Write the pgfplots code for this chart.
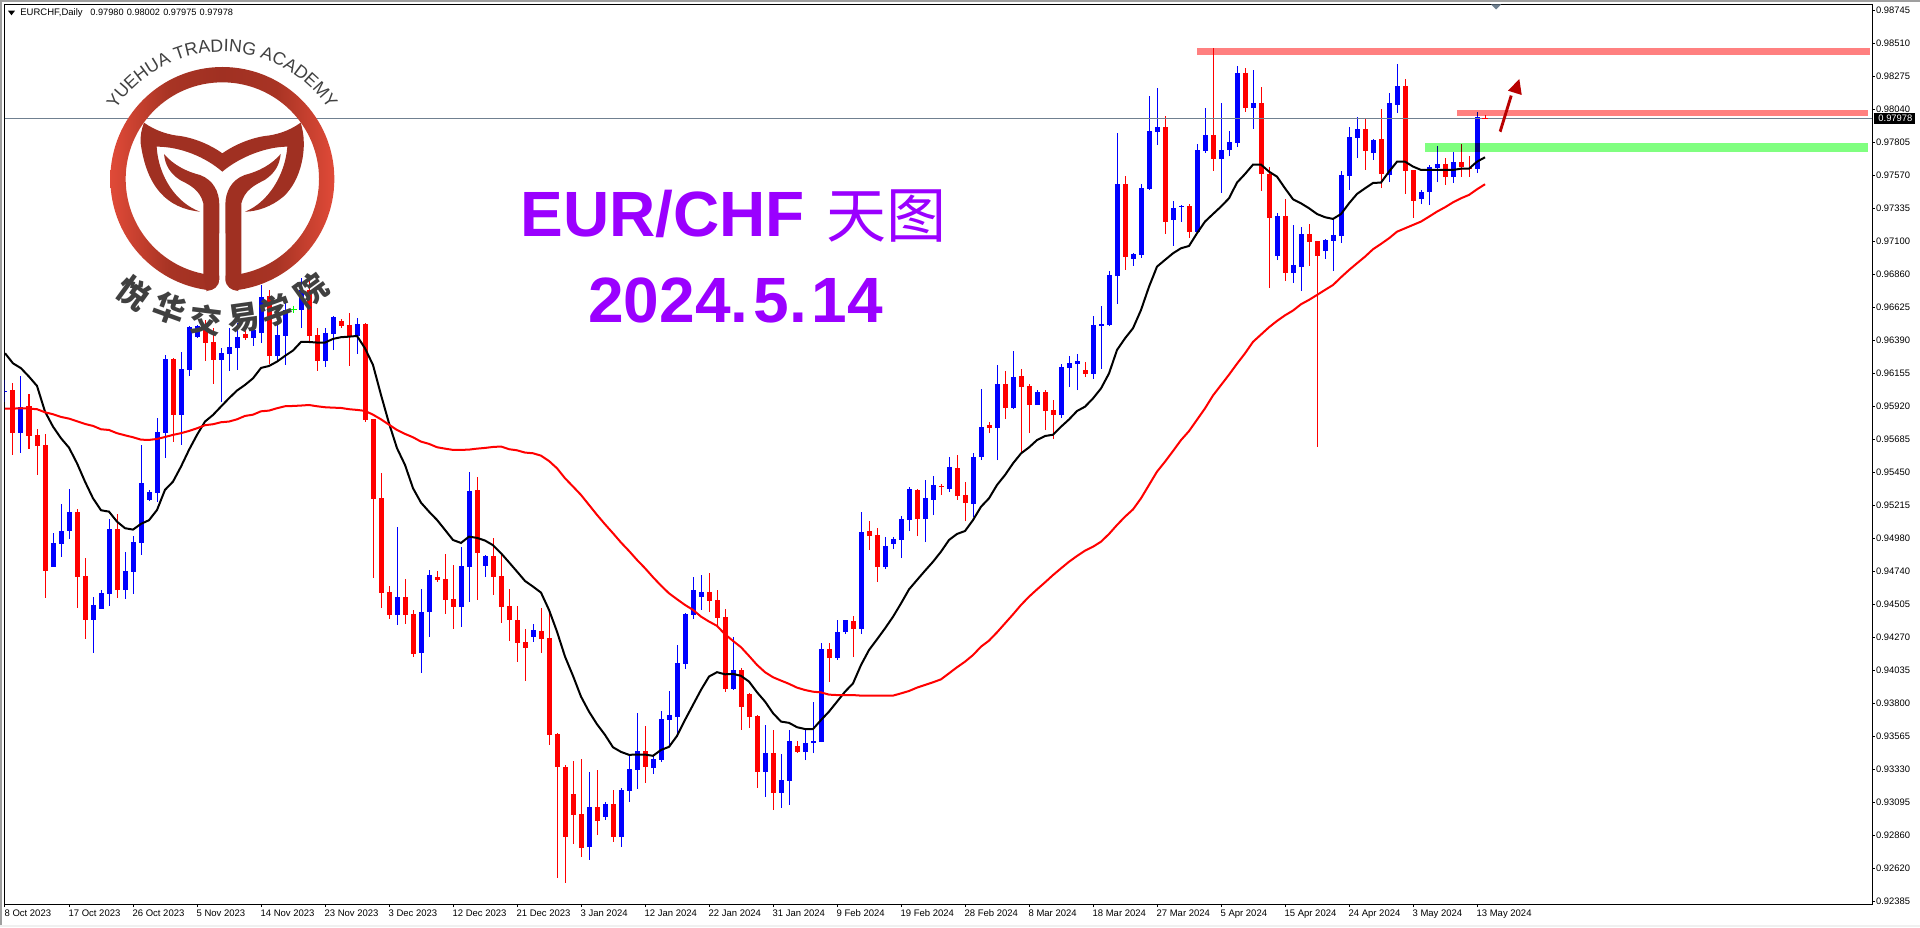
\documentclass[border=0pt]{standalone}
\usepackage{pgfplots}
\usepackage{pgfplotstable}
\usepackage{fontspec}
\pgfplotsset{compat=1.18}
\usetikzlibrary{decorations.text}
\setmainfont{Liberation Sans}
\newfontfamily\cjk{Noto Sans CJK SC}
\definecolor{mtblue}{HTML}{0000FF}
\definecolor{mtred}{HTML}{FF0000}
\definecolor{bandred}{HTML}{FF8080}
\definecolor{bandgreen}{HTML}{80FF80}
\definecolor{titlepurple}{HTML}{9A00FF}
\definecolor{logored}{HTML}{A03022}
\definecolor{logomid}{HTML}{A83424}
\definecolor{logolight}{HTML}{E04A38}
\definecolor{logotext}{HTML}{404040}
\definecolor{bidline}{HTML}{708090}
\pgfdeclarehorizontalshading{ringshade}{100bp}{color(0bp)=(logolight);color(25bp)=(logolight);color(38bp)=(logomid);color(50bp)=(logored);color(62bp)=(logomid);color(75bp)=(logolight);color(100bp)=(logolight)}
\pgfplotstableread{
x hi top bot lo
0 0.96114 0.96038 0.96030 0.95959
2 0.96142 0.95919 0.95738 0.95596
6 0.95023 0.94952 0.94784 0.94784
7 0.95230 0.95038 0.94947 0.94855
8 0.95337 0.95173 0.95040 0.94983
11 0.94567 0.94510 0.94406 0.94171
12 0.94617 0.94596 0.94482 0.94482
13 0.95123 0.95052 0.94591 0.94506
15 0.94888 0.94753 0.94620 0.94553
16 0.95002 0.94959 0.94748 0.94591
17 0.95650 0.95380 0.94952 0.94867
18 0.95330 0.95315 0.95258 0.95251
19 0.95843 0.95743 0.95311 0.95244
20 0.96292 0.96263 0.95736 0.95558
22 0.96313 0.96192 0.95864 0.95650
23 0.96496 0.96491 0.96185 0.96142
24 0.96505 0.96498 0.96420 0.96413
27 0.96341 0.96306 0.96256 0.95957
28 0.96482 0.96349 0.96299 0.96178
29 0.96517 0.96420 0.96341 0.96185
31 0.96541 0.96470 0.96413 0.96356
32 0.96790 0.96705 0.96448 0.96377
34 0.96588 0.96434 0.96284 0.96242
35 0.96707 0.96612 0.96427 0.96220
37 0.96838 0.96755 0.96612 0.96482
40 0.96482 0.96448 0.96249 0.96206
41 0.96569 0.96562 0.96441 0.96327
44 0.96555 0.96512 0.96427 0.96299
49 0.95066 0.94567 0.94439 0.94368
52 0.94624 0.94460 0.94168 0.94026
53 0.94760 0.94724 0.94460 0.94282
57 0.94924 0.94788 0.94496 0.94354
58 0.95458 0.95323 0.94781 0.94532
60 0.94867 0.94859 0.94788 0.94710
66 0.94375 0.94332 0.94282 0.94247
73 0.93320 0.93071 0.92786 0.92693
75 0.93107 0.93092 0.93000 0.92978
77 0.93206 0.93192 0.92857 0.92786
78 0.93442 0.93342 0.93185 0.93107
79 0.93741 0.93470 0.93335 0.93199
81 0.93442 0.93413 0.93349 0.93306
82 0.93755 0.93698 0.93406 0.93392
83 0.93898 0.93727 0.93691 0.93501
84 0.94225 0.94097 0.93712 0.93572
85 0.94451 0.94446 0.94090 0.94054
86 0.94710 0.94617 0.94439 0.94411
87 0.94724 0.94603 0.94567 0.94475
91 0.94282 0.94047 0.93912 0.93905
95 0.93655 0.93456 0.93320 0.93142
97 0.93449 0.93263 0.93171 0.93064
98 0.93620 0.93541 0.93256 0.93085
100 0.93619 0.93526 0.93462 0.93405
101 0.93818 0.93541 0.93526 0.93455
102 0.94239 0.94196 0.93533 0.93533
104 0.94403 0.94317 0.94132 0.94118
105 0.94403 0.94403 0.94317 0.94303
107 0.95172 0.95030 0.94339 0.94303
110 0.94994 0.94930 0.94780 0.94766
111 0.94994 0.94980 0.94944 0.94909
112 0.95144 0.95122 0.94973 0.94844
113 0.95350 0.95336 0.95115 0.95037
115 0.95400 0.95272 0.95122 0.94958
116 0.95429 0.95365 0.95258 0.95151
118 0.95564 0.95493 0.95336 0.95315
121 0.95593 0.95564 0.95229 0.95137
122 0.96049 0.95778 0.95564 0.95543
124 0.96220 0.96084 0.95771 0.95543
126 0.96319 0.96134 0.95913 0.95906
129 0.96041 0.96027 0.95935 0.95935
132 0.96227 0.96205 0.95863 0.95842
133 0.96284 0.96234 0.96198 0.96063
134 0.96298 0.96248 0.96227 0.96041
136 0.96569 0.96505 0.96156 0.96121
137 0.96641 0.96512 0.96498 0.96192
138 0.96890 0.96862 0.96505 0.96498
139 0.97873 0.97510 0.96854 0.96655
141 0.97018 0.97011 0.96976 0.96926
142 0.97510 0.97481 0.97004 0.96983
143 0.98137 0.97888 0.97474 0.97467
144 0.98194 0.97916 0.97880 0.97788
146 0.97389 0.97339 0.97253 0.97068
147 0.97360 0.97356 0.97348 0.97239
149 0.97795 0.97752 0.97168 0.97154
150 0.98051 0.97859 0.97745 0.97731
152 0.98087 0.97752 0.97688 0.97446
153 0.97888 0.97809 0.97752 0.97709
154 0.98351 0.98301 0.97802 0.97774
156 0.98322 0.98087 0.98051 0.97902
159 0.97303 0.97282 0.96997 0.96968
161 0.97218 0.96933 0.96876 0.96805
162 0.97204 0.97154 0.96919 0.96748
165 0.97118 0.97111 0.97033 0.96976
166 0.97261 0.97147 0.97104 0.96890
167 0.97603 0.97574 0.97139 0.97090
168 0.97916 0.97845 0.97567 0.97467
169 0.97987 0.97902 0.97838 0.97695
171 0.97831 0.97823 0.97731 0.97681
173 0.98158 0.98087 0.97574 0.97524
174 0.98365 0.98208 0.98073 0.98016
177 0.97467 0.97453 0.97403 0.97367
178 0.97645 0.97631 0.97453 0.97360
179 0.97781 0.97652 0.97624 0.97524
181 0.97738 0.97667 0.97560 0.97517
184 0.98023 0.97987 0.97617 0.97588
}\upbars
\pgfplotstableread{
x hi top bot lo
1 0.96090 0.96042 0.95738 0.95579
3 0.96014 0.95928 0.95717 0.95622
4 0.95764 0.95722 0.95646 0.95437
5 0.95729 0.95650 0.94755 0.94563
9 0.95194 0.95173 0.94712 0.94489
10 0.94843 0.94717 0.94406 0.94268
14 0.95159 0.95052 0.94620 0.94563
21 0.96270 0.96263 0.95864 0.95672
25 0.96541 0.96470 0.96377 0.96249
26 0.96482 0.96384 0.96256 0.96085
30 0.96517 0.96441 0.96413 0.96399
33 0.96755 0.96712 0.96284 0.96227
38 0.96862 0.96755 0.96429 0.96387
39 0.96482 0.96434 0.96249 0.96180
42 0.96548 0.96534 0.96498 0.96484
43 0.96591 0.96505 0.96427 0.96213
45 0.96520 0.96512 0.95828 0.95814
46 0.95836 0.95836 0.95266 0.94703
47 0.95451 0.95273 0.94596 0.94489
48 0.94646 0.94603 0.94439 0.94411
50 0.94696 0.94567 0.94439 0.94375
51 0.94475 0.94446 0.94161 0.94140
54 0.94753 0.94710 0.94688 0.94674
55 0.94874 0.94696 0.94546 0.94446
56 0.94795 0.94553 0.94496 0.94339
59 0.95422 0.95330 0.94881 0.94546
61 0.94988 0.94859 0.94710 0.94582
62 0.94867 0.94717 0.94496 0.94382
63 0.94624 0.94503 0.94403 0.94254
64 0.94503 0.94403 0.94240 0.94104
65 0.94339 0.94247 0.94204 0.93969
67 0.94489 0.94325 0.94268 0.94168
68 0.94451 0.94275 0.93584 0.93513
69 0.93598 0.93591 0.93356 0.92565
70 0.93370 0.93356 0.92857 0.92530
71 0.93399 0.93164 0.93014 0.92807
72 0.93413 0.93021 0.92779 0.92715
74 0.93335 0.93071 0.92971 0.92872
76 0.93192 0.93092 0.92857 0.92822
80 0.93648 0.93470 0.93356 0.93242
88 0.94738 0.94603 0.94539 0.94460
89 0.94617 0.94546 0.94418 0.94356
90 0.94482 0.94425 0.93912 0.93890
92 0.94061 0.94047 0.93784 0.93620
93 0.93883 0.93876 0.93712 0.93634
94 0.93727 0.93719 0.93320 0.93206
96 0.93620 0.93456 0.93171 0.93050
99 0.93541 0.93506 0.93463 0.93456
103 0.94239 0.94196 0.94132 0.93961
106 0.94431 0.94396 0.94339 0.94139
108 0.95108 0.95037 0.95001 0.94901
109 0.95058 0.95008 0.94780 0.94673
114 0.95336 0.95329 0.95122 0.95001
117 0.95372 0.95357 0.95348 0.95293
119 0.95578 0.95486 0.95286 0.95258
120 0.95386 0.95293 0.95236 0.95108
123 0.95813 0.95792 0.95771 0.95735
125 0.96177 0.96084 0.95913 0.95835
127 0.96191 0.96141 0.96063 0.95593
128 0.96084 0.96070 0.95935 0.95735
130 0.96041 0.96027 0.95892 0.95756
131 0.95970 0.95899 0.95863 0.95692
135 0.96241 0.96184 0.96155 0.96134
140 0.97567 0.97510 0.96990 0.96897
145 0.97994 0.97916 0.97239 0.97154
148 0.97367 0.97353 0.97168 0.97125
151 0.98479 0.97859 0.97688 0.97603
155 0.98336 0.98301 0.98051 0.98023
157 0.98201 0.98087 0.97581 0.97460
158 0.97631 0.97581 0.97268 0.96769
160 0.97403 0.97282 0.96876 0.96819
163 0.97225 0.97154 0.97097 0.96926
164 0.97104 0.97104 0.96997 0.95636
170 0.97973 0.97902 0.97745 0.97610
172 0.98044 0.97831 0.97581 0.97481
175 0.98258 0.98208 0.97603 0.97439
176 0.97610 0.97610 0.97389 0.97268
180 0.97695 0.97652 0.97560 0.97503
182 0.97795 0.97667 0.97631 0.97560
183 0.97709 0.97622 0.97617 0.97560
185 0.98002 0.97980 0.97978 0.97975
}\downbars
\pgfplotstableread{
x fast slow
0 0.96304 0.95909
1 0.96232 0.95909
2 0.96197 0.95912
3 0.96137 0.95909
4 0.96071 0.95905
5 0.95888 0.95883
6 0.95781 0.95869
7 0.95698 0.95850
8 0.95631 0.95838
9 0.95520 0.95819
10 0.95389 0.95800
11 0.95270 0.95786
12 0.95185 0.95762
13 0.95175 0.95757
14 0.95104 0.95734
15 0.95057 0.95719
16 0.95047 0.95705
17 0.95088 0.95688
18 0.95114 0.95686
19 0.95187 0.95693
20 0.95330 0.95707
21 0.95389 0.95722
22 0.95496 0.95734
23 0.95615 0.95750
24 0.95722 0.95769
25 0.95817 0.95791
26 0.95864 0.95798
27 0.95924 0.95812
28 0.95983 0.95817
29 0.96038 0.95833
30 0.96078 0.95857
31 0.96125 0.95866
32 0.96199 0.95890
33 0.96213 0.95895
34 0.96244 0.95912
35 0.96285 0.95926
36 0.96323 0.95928
37 0.96384 0.95931
38 0.96384 0.95935
39 0.96380 0.95926
40 0.96380 0.95919
41 0.96406 0.95916
42 0.96418 0.95914
43 0.96422 0.95905
44 0.96427 0.95900
45 0.96339 0.95893
46 0.96220 0.95866
47 0.96007 0.95833
48 0.95805 0.95795
49 0.95627 0.95757
50 0.95508 0.95729
51 0.95342 0.95705
52 0.95239 0.95674
53 0.95175 0.95658
54 0.95116 0.95634
55 0.95045 0.95624
56 0.94973 0.95615
57 0.94952 0.95615
58 0.94997 0.95617
59 0.94988 0.95624
60 0.94969 0.95629
61 0.94936 0.95636
62 0.94879 0.95639
63 0.94814 0.95620
64 0.94748 0.95612
65 0.94681 0.95596
66 0.94641 0.95591
67 0.94598 0.95574
68 0.94475 0.95536
69 0.94320 0.95484
70 0.94142 0.95413
71 0.94005 0.95354
72 0.93857 0.95294
73 0.93750 0.95223
74 0.93660 0.95152
75 0.93584 0.95085
76 0.93496 0.95021
77 0.93463 0.94955
78 0.93442 0.94895
79 0.93444 0.94831
80 0.93444 0.94772
81 0.93435 0.94708
82 0.93477 0.94648
83 0.93499 0.94593
84 0.93577 0.94551
85 0.93691 0.94510
86 0.93798 0.94475
87 0.93905 0.94427
88 0.94000 0.94392
89 0.94031 0.94361
90 0.94016 0.94301
91 0.94019 0.94254
92 0.94005 0.94209
93 0.93964 0.94147
94 0.93888 0.94083
95 0.93822 0.94031
96 0.93739 0.93995
97 0.93679 0.93971
98 0.93670 0.93948
99 0.93639 0.93921
100 0.93626 0.93904
101 0.93626 0.93892
102 0.93690 0.93887
103 0.93750 0.93871
104 0.93821 0.93868
105 0.93892 0.93868
106 0.93951 0.93868
107 0.94082 0.93864
108 0.94189 0.93864
109 0.94265 0.93864
110 0.94343 0.93864
111 0.94426 0.93864
112 0.94521 0.93880
113 0.94621 0.93897
114 0.94688 0.93921
115 0.94754 0.93940
116 0.94818 0.93959
117 0.94890 0.93980
118 0.94973 0.94023
119 0.95016 0.94066
120 0.95037 0.94106
121 0.95115 0.94153
122 0.95210 0.94213
123 0.95270 0.94256
124 0.95365 0.94315
125 0.95436 0.94379
126 0.95519 0.94443
127 0.95590 0.94510
128 0.95633 0.94569
129 0.95685 0.94621
130 0.95714 0.94671
131 0.95723 0.94723
132 0.95780 0.94771
133 0.95832 0.94818
134 0.95892 0.94859
135 0.95923 0.94897
136 0.95982 0.94925
137 0.96053 0.94961
138 0.96160 0.95016
139 0.96327 0.95080
140 0.96410 0.95139
141 0.96482 0.95191
142 0.96612 0.95270
143 0.96778 0.95365
144 0.96921 0.95460
145 0.96969 0.95531
146 0.97016 0.95607
147 0.97052 0.95685
148 0.97068 0.95749
149 0.97159 0.95830
150 0.97242 0.95911
151 0.97296 0.96003
152 0.97349 0.96077
153 0.97408 0.96151
154 0.97520 0.96229
155 0.97581 0.96303
156 0.97648 0.96385
157 0.97648 0.96437
158 0.97598 0.96489
159 0.97562 0.96534
160 0.97479 0.96574
161 0.97401 0.96608
162 0.97372 0.96653
163 0.97337 0.96684
164 0.97296 0.96719
165 0.97273 0.96755
166 0.97261 0.96790
167 0.97296 0.96845
168 0.97372 0.96897
169 0.97439 0.96945
170 0.97479 0.96992
171 0.97517 0.97045
172 0.97520 0.97083
173 0.97598 0.97123
174 0.97669 0.97170
175 0.97669 0.97194
176 0.97634 0.97218
177 0.97610 0.97242
178 0.97610 0.97277
179 0.97610 0.97313
180 0.97610 0.97344
181 0.97610 0.97379
182 0.97619 0.97408
183 0.97619 0.97432
184 0.97669 0.97472
185 0.97700 0.97508
}\movingavg
\pgfplotsset{
  wick/.style={draw=none,forget plot,error bars/.cd,y dir=plus,y explicit,error mark=none,
    error bar style={draw=#1,line width=0.5pt}},
  body/.style={draw=none,forget plot,error bars/.cd,y dir=plus,y explicit,error mark=none,
    error bar style={draw=#1,line width=2.5pt}},
}
\begin{document}
\begin{tikzpicture}
\path[use as bounding box] (0,0) rectangle (960pt,463.5pt);
\begin{axis}[
  at={(2.35pt,11.5pt)},anchor=south west,
  scale only axis,width=933.65pt,height=449.75pt,
  xmin=-0.0375,xmax=233.375,ymin=0.923791,ymax=0.987889,
  axis line style={line width=0.5pt,black},
  tick align=outside,major tick length=1.6pt,
  tick style={black,line width=0.5pt},
  xtick pos=bottom,ytick pos=right,yticklabel pos=right,
  xtick={0,8,16,24,32,40,48,56,64,72,80,88,96,104,112,120,128,136,144,152,160,168,176,184},
  xticklabels={8 Oct 2023,17 Oct 2023,26 Oct 2023,5 Nov 2023,14 Nov 2023,23 Nov 2023,3 Dec 2023,12 Dec 2023,21 Dec 2023,3 Jan 2024,12 Jan 2024,22 Jan 2024,31 Jan 2024,9 Feb 2024,19 Feb 2024,28 Feb 2024,8 Mar 2024,18 Mar 2024,27 Mar 2024,5 Apr 2024,15 Apr 2024,24 Apr 2024,3 May 2024,13 May 2024},
  ytick={0.98745,0.98510,0.98275,0.98040,0.97805,0.97570,0.97335,0.97100,0.96865,0.96630,0.96395,0.96160,0.95925,0.95690,0.95455,0.95220,0.94985,0.94750,0.94515,0.94280,0.94045,0.93810,0.93575,0.93340,0.93105,0.92870,0.92635,0.92400},
  yticklabels={0.98745,0.98510,0.98275,0.98040,0.97805,0.97570,0.97335,0.97100,0.96860,0.96625,0.96390,0.96155,0.95920,0.95685,0.95450,0.95215,0.94980,0.94740,0.94505,0.94270,0.94035,0.93800,0.93565,0.93330,0.93095,0.92860,0.92620,0.92385},
  x tick label style={font=\fontsize{4.75}{5}\selectfont,anchor=north west,inner sep=0pt,xshift=-0.4pt,yshift=-0.9pt},
  y tick label style={font=\fontsize{4.7}{5}\selectfont,anchor=west,inner sep=0pt,xshift=0.2pt},
]
\addplot[wick=mtred] table[x=x,y=lo,y error plus expr=\thisrow{hi}-\thisrow{lo}] {\downbars};
\addplot[wick=mtblue] table[x=x,y=lo,y error plus expr=\thisrow{hi}-\thisrow{lo}] {\upbars};
\addplot[body=mtred] table[x=x,y=bot,y error plus expr=\thisrow{top}-\thisrow{bot}] {\downbars};
\addplot[body=mtblue] table[x=x,y=bot,y error plus expr=\thisrow{top}-\thisrow{bot}] {\upbars};
\addplot[only marks,mark=-,mark size=1.3pt,mark options={draw=mtred,line width=0.5pt},forget plot] coordinates {(185,0.97979)};
\addplot[only marks,mark=+,mark size=1.8pt,mark options={draw=green,line width=0.4pt},forget plot] coordinates {(36,0.96617)};
\addplot[bidline,line width=0.5pt,forget plot] coordinates {(-0.0375,0.97980)(233.375,0.97980)};
\addplot[black,line width=1pt,forget plot] table[x=x,y=fast] {\movingavg};
\addplot[mtred,line width=1pt,forget plot] table[x=x,y=slow] {\movingavg};
\addplot[draw=none,fill=bandred,blend mode=multiply,forget plot] coordinates {(148.96,0.98479)(233.1,0.98479)(233.1,0.98429)(148.96,0.98429)} --cycle;
\addplot[draw=none,fill=bandred,blend mode=multiply,forget plot] coordinates {(181.5,0.98037)(232.9,0.98037)(232.9,0.97994)(181.5,0.97994)} --cycle;
\addplot[draw=none,fill=bandgreen,blend mode=multiply,forget plot] coordinates {(177.5,0.97802)(232.9,0.97802)(232.9,0.97738)(177.5,0.97738)} --cycle;
\end{axis}
% everything below is set in reference pixels
\begin{scope}[x=0.5pt,y=-0.5pt,shift={(0,463.5pt)}]
  \fill[gray!75] (0,0) rectangle (1920,1.7);
  \fill[gray!75] (0,0) rectangle (1.7,925);
  \fill[black!6] (0,925) rectangle (1920,927);
  \fill[black] (8,10.7) -- (15,10.7) -- (11.5,15.3) -- cycle;
  \fill[bidline] (1491,4.5) -- (1501,4.5) -- (1496,9.5) -- cycle;
  \node[anchor=west,inner sep=0pt,font=\fontsize{4.75}{5}\selectfont] at (20,12.7) {EURCHF,Daily};
  \node[anchor=west,inner sep=0pt,font=\fontsize{4.6}{5}\selectfont] at (90,12.7) {0.97980\hspace{1.6pt}0.98002\hspace{1.6pt}0.97975\hspace{1.6pt}0.97978};
  \fill[black] (1874,112.7) rectangle (1915,124);
  \node[anchor=west,inner sep=0pt,text=white,font=\fontsize{4.7}{5}\selectfont] at (1878,118.4) {0.97978};
  % arrow
  \fill[red!72!black] (1498.8,131) -- (1501.4,132.4) -- (1512.6,96) -- (1509.8,95.2) -- cycle;
  \fill[red!72!black] (1508,90.7) -- (1519.3,79) -- (1521.7,95) -- cycle;
  % titles
  \node[anchor=base west,inner sep=0pt,text=titlepurple,font=\fontsize{32}{34}\selectfont\bfseries] at (520,237) {EUR/CHF};
  \node[anchor=base west,inner sep=0pt,text=titlepurple,font=\fontsize{30}{32}\selectfont\cjk] at (826,238) {天图};
  \node[anchor=base west,inner sep=0pt,text=titlepurple,font=\fontsize{32}{36}\selectfont\bfseries] at (588,323) {2024.\hspace{2.5pt}5.\hspace{2.5pt}14};
\end{scope}
% logo, in 3x reference pixels
\begin{scope}[x=0.166667pt,y=-0.166667pt,shift={(0,463.5pt)}]
  \shade[even odd rule,shading=ringshade]
    (667,537) circle[radius=336] (667,537) circle[radius=290];
  \fill[logored] (432,368) .. controls (470,395) and (510,405) .. (540,408)
    .. controls (590,415) and (640,440) .. (667,460)
    .. controls (695,440) and (745,415) .. (795,408)
    .. controls (825,405) and (865,395) .. (902,368)
    .. controls (925,440) and (905,540) .. (850,590)
    .. controls (815,620) and (770,635) .. (735,635)
    .. controls (800,610) and (855,530) .. (862,440)
    .. controls (800,440) and (720,470) .. (667,515)
    .. controls (615,470) and (540,440) .. (470,440)
    .. controls (475,530) and (530,610) .. (600,635)
    .. controls (500,625) and (440,560) .. (422,430)
    .. controls (420,410) and (425,385) .. (432,368) -- cycle;
  \fill[logored] (492,462) .. controls (520,495) and (560,515) .. (600,525)
    .. controls (640,540) and (658,575) .. (658,615)
    -- (658,860) -- (620,875) -- (610,822) -- (610,610)
    .. controls (600,570) and (570,555) .. (540,540)
    .. controls (510,520) and (495,495) .. (492,462) -- cycle;
  \fill[logored] (842,462) .. controls (814,495) and (774,515) .. (734,525)
    .. controls (694,540) and (676,575) .. (676,615)
    -- (676,860) -- (714,875) -- (724,822) -- (724,610)
    .. controls (734,570) and (764,555) .. (794,540)
    .. controls (824,520) and (839,495) .. (842,462) -- cycle;
  \fill[white] (658,700) -- (676,700) -- (676,838) .. controls (676,860) and (695,873) .. (714,873)
    -- (714,885) -- (620,885) -- (620,873) .. controls (640,873) and (658,860) .. (658,838) -- cycle;
  \begin{scope}[font=\fontsize{16}{17}\selectfont\cjk\bfseries,text=logotext,inner sep=0pt]
    \node[rotate=-36] at (400,878) {悦};
    \node[rotate=-20] at (510,925) {华};
    \node[rotate=-7] at (617,960) {交};
    \node[rotate=8] at (730,955) {易};
    \node[rotate=20] at (830,930) {学};
    \node[rotate=36] at (935,870) {院};
  \end{scope}
\end{scope}
\begin{scope}[x=0.5pt,y=0.5pt]
  \path[decorate,decoration={text along path,text align=center,
      text={|\fontsize{8.9}{9}\selectfont\color{logotext}|YUEHUA TRADING ACADEMY}}]
    (102.7,791.4) arc[start angle=160,end angle=20,radius=127];
\end{scope}
\end{tikzpicture}
\end{document}
